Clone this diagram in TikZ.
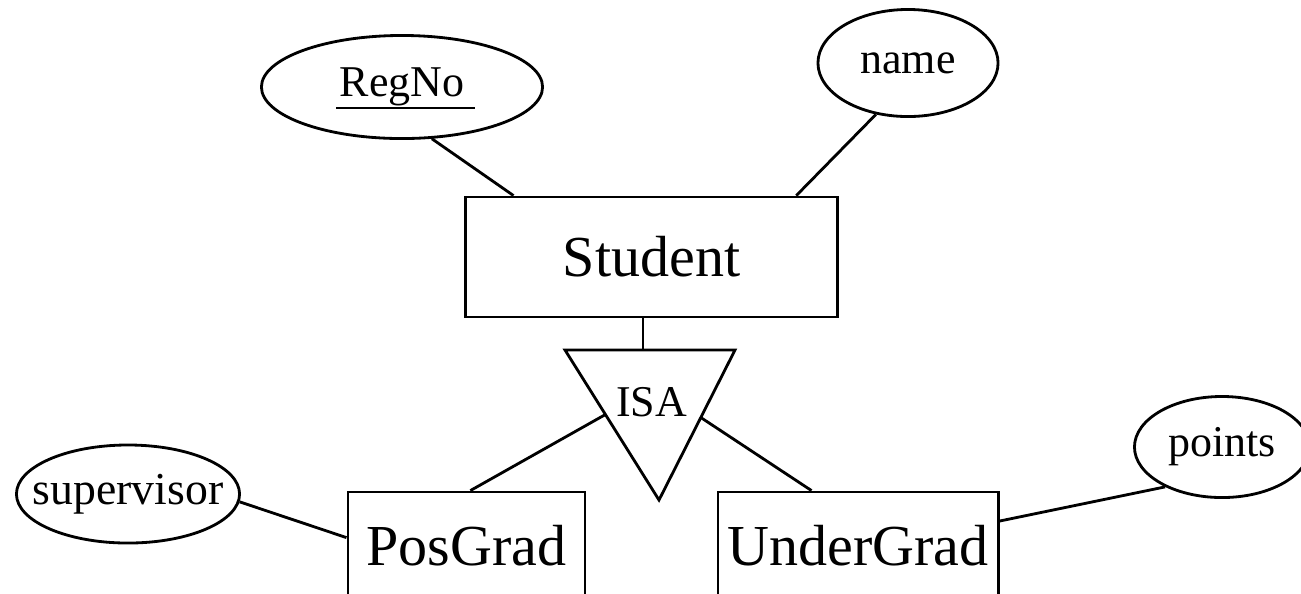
\documentclass[tikz,border=0pt]{standalone}
\usepackage{fontspec}
\setmainfont{Liberation Serif}
\usetikzlibrary{shapes.geometric,calc}
\newcommand{\keyattr}[1]{\setbox0\hbox{#1}%
  \rlap{\kern-1pt\raisebox{-3.6pt}[0pt][0pt]{\rule{\dimexpr\wd0+4pt\relax}{0.8pt}}}#1}
\tikzset{
  er picture/.style={
    x=0.01cm,
    y=-0.01cm,
    line width=0.8pt,
  },
  entity/.style={
    draw,
    rectangle,
    inner sep=0pt,
    font=\fontsize{16.5}{18}\selectfont
  },
  attribute/.style={
    draw,
    ellipse,
    inner sep=0pt,
    font=\fontsize{12.5}{14}\selectfont
  }
}

\begin{document}
\begin{tikzpicture}[er picture]
\useasboundingbox (0,0) rectangle (1301,593);
\node (stu) at (651.5,257) [entity,minimum width=3.71cm,minimum height=1.2cm] {Student};
\node (pos) at (466.5,546) [entity,minimum width=2.37cm,minimum height=1.08cm] {PosGrad};
\node (ug) at (858,546) [entity,minimum width=2.8cm,minimum height=1.08cm] {UnderGrad};
\node (regno) at (402,87) [attribute,minimum width=2.81cm,minimum height=1.03cm] {\keyattr{RegNo}};
\node (name) at (908,63) [attribute,minimum width=1.8cm,minimum height=1.07cm] {name};
\node (sup) at (128,494) [attribute,inner xsep=-0.25cm,minimum width=2.23cm,minimum height=0.98cm,font=\fontsize{13}{14}\selectfont] {supervisor};
\node (pts) at (1222,447) [attribute,minimum width=1.75cm,minimum height=1.01cm] {points};
% isa triangle
\coordinate (isaL) at (565,350);
\coordinate (isaR) at (735,350);
\coordinate (isaB) at (659,500);
\coordinate (isaT) at (643,350);
\draw (isaL) -- (isaR) -- (isaB) -- cycle;
\node (isa) at (651.5,402) [font=\fontsize{12.5}{14}\selectfont] {ISA};
\draw (regno.-60) -- (stu.156);
\draw (name.-122) -- (stu.23);
\draw (stu.south -| isaT) -- (isaT);
\draw ($(isaL)!0.43!(isaB)$) -- (pos.86);
\draw ($(isaR)!0.45!(isaB)$) -- (ug.130);
\draw (sup.-4) -- (pos.176);
\draw (ug.10) -- (pts.-145);
\end{tikzpicture}
\end{document}
